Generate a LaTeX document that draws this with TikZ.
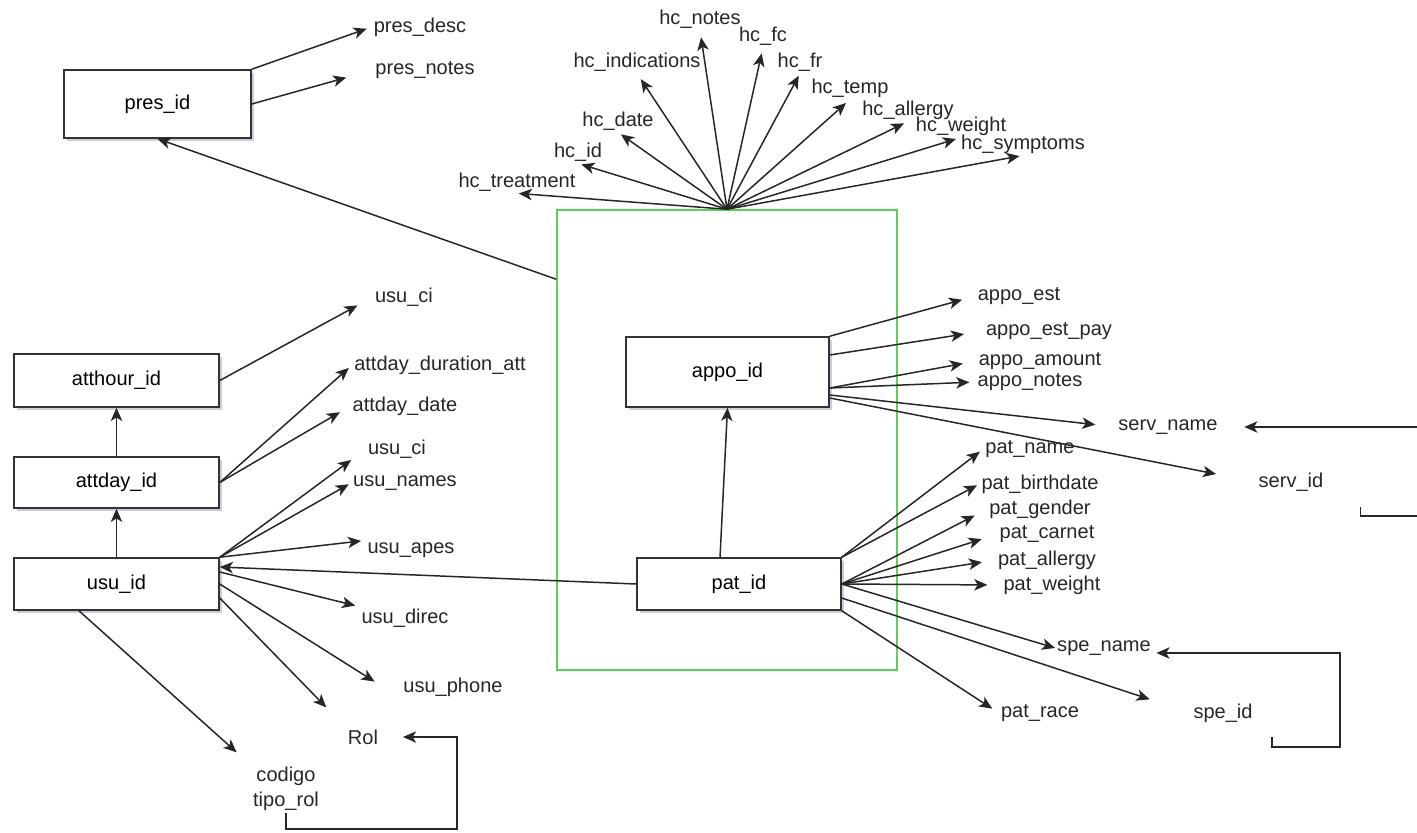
\documentclass[tikz,border=0pt]{standalone}
\usepackage{fontspec}
\setmainfont{Liberation Sans}
\usepackage{xcolor}
\usepackage{tikz}
\usetikzlibrary{arrows.meta, shadows}
\definecolor{grpgreen}{RGB}{90,210,90}

\begin{document}
\begin{tikzpicture}[
    x=0.02cm, y=-0.02cm,
    font=\fontsize{11.4}{14}\selectfont,
    ent/.style={draw=black!80, line width=0.9pt, fill=white, inner sep=0pt, drop shadow={shadow xshift=1.5pt, shadow yshift=-1.5pt, opacity=0.2, fill=blue!40!black}},
    att/.style={inner sep=1pt, text=black!85},
    grpbox/.style={draw=grpgreen, line width=0.9pt, minimum width=6.8cm, minimum height=9.2cm, inner sep=0pt},
    arrow/.style={-{Stealth[length=7.5pt, width=6.5pt, inset=2pt]}, line width=0.85pt, draw=black!85}
]
\useasboundingbox (0,0) rectangle (1417,832);
\clip (0,0) rectangle (1417,832);

% Appointment group
\node[grpbox] (grp) at (727,440) {};

% Entities
\node[ent, minimum width=3.74cm, minimum height=1.36cm] (presid) at (157.5,104) {pres\_id};
\node[ent, minimum width=4.1cm, minimum height=1.06cm] (atthour) at (116.5,380.5) {atthour\_id};
\node[ent, minimum width=4.1cm, minimum height=1.02cm] (attday) at (116.5,482.5) {attday\_id};
\node[ent, minimum width=4.1cm, minimum height=1.04cm] (usuid) at (116.5,584) {usu\_id};
\node[ent, minimum width=4.06cm, minimum height=1.4cm] (appoid) at (727.5,372) {appo\_id};
\node[ent, minimum width=4.08cm, minimum height=1.04cm] (patid) at (739,584) {pat\_id};

% Prescription attributes
\node[att] (presdesc) at (420,27) {pres\_desc};
\node[att] (presnotes) at (425,70) {pres\_notes};

% Clinical history attributes
\node[att] (hctreat) at (517,182) {hc\_treatment};
\node[att] (hcid) at (578,152) {hc\_id};
\node[att] (hcdate) at (618,121) {hc\_date};
\node[att] (hcind) at (637,62) {hc\_indications};
\node[att] (hcnotes) at (700,19) {hc\_notes};
\node[att] (hcfc) at (763,36) {hc\_fc};
\node[att] (hcfr) at (800,62) {hc\_fr};
\node[att] (hctemp) at (850,88) {hc\_temp};
\node[att] (hcallergy) at (908,110) {hc\_allergy};
\node[att] (hcweight) at (961,126) {hc\_weight};
\node[att] (hcsympt) at (1023,144) {hc\_symptoms};

% User side attributes
\node[att] (usuciA) at (404,297) {usu\_ci};
\node[att] (attdur) at (440,365) {attday\_duration\_att};
\node[att] (attdate) at (405,406) {attday\_date};
\node[att] (usuciB) at (397,449) {usu\_ci};
\node[att] (usunames) at (405,483) {usu\_names};
\node[att] (usuapes) at (411,550) {usu\_apes};
\node[att] (usudirec) at (405,618) {usu\_direc};
\node[att] (usuphone) at (453,687) {usu\_phone};
\node[att] (rol) at (363,737) {Rol};
\node[att, align=center] (rolcode) at (286,789) {codigo\\tipo\_rol};

% Appointment attributes
\node[att] (appoest) at (1019,296) {appo\_est};
\node[att] (appopay) at (1049,331) {appo\_est\_pay};
\node[att] (appoamount) at (1040,361) {appo\_amount};
\node[att] (apponotes) at (1030,382) {appo\_notes};
\node[att] (servname) at (1168,427) {serv\_name};
\node[att] (servid) at (1291,482) {serv\_id};

% Patient attributes
\node[att] (patname) at (1030,449) {pat\_name};
\node[att] (patbirth) at (1040,484) {pat\_birthdate};
\node[att] (patgender) at (1040,509) {pat\_gender};
\node[att] (patcarnet) at (1047,534) {pat\_carnet};
\node[att] (patallergy) at (1047,560) {pat\_allergy};
\node[att] (patweight) at (1052,585) {pat\_weight};
\node[att] (spename) at (1104,648) {spe\_name};
\node[att] (speid) at (1223,713) {spe\_id};
\node[att] (patrace) at (1040,713) {pat\_race};

% Prescription
\draw[arrow, shorten >=3pt] (presid.north east) -- (presdesc.west);
\draw[arrow, shorten >=16pt] (presid.east) -- (presnotes.west);
\draw[arrow] ([yshift=-1.4cm]grp.north west) -- (presid.south);

% Clinical history fan
\draw[arrow, shorten >=1pt] (grp.north) -- (hctreat.south);
\draw[arrow, shorten >=2pt] (grp.north) -- (hcid.south);
\draw[arrow, shorten >=2pt] (grp.north) -- (hcdate.south);
\draw[arrow, shorten >=4pt] (grp.north) -- (hcind.south);
\draw[arrow, shorten >=4pt] (grp.north) -- (hcnotes.south);
\draw[arrow, shorten >=3.5pt] (grp.north) -- (hcfc.south);
\draw[arrow, shorten >=1.5pt] (grp.north) -- (hcfr.south);
\draw[arrow, shorten >=3pt] (grp.north) -- (hctemp.south);
\draw[arrow, shorten >=2.5pt] (grp.north) -- (hcallergy.south);
\draw[arrow, shorten >=3pt] (grp.north) -- (hcweight.south);
\draw[arrow, shorten >=2pt] (grp.north) -- (hcsympt.south);

% User chain
\draw[arrow] (usuid.north) -- (attday.south);
\draw[arrow] (attday.north) -- (atthour.south);
\draw[arrow, shorten >=10pt] (atthour.east) -- (usuciA.west);
\draw[arrow, shorten >=2.5pt] (attday.east) -- (attdur.west);
\draw[arrow, shorten >=7pt] (attday.east) -- (attdate.west);
\draw[arrow, shorten >=10.5pt] (usuid.north east) -- (usuciB.west);
\draw[arrow, shorten >=1.5pt] (usuid.north east) -- (usunames.west);
\draw[arrow, shorten >=2.5pt] (usuid.north east) -- (usuapes.north west);
\draw[arrow, shorten >=2.5pt] ([yshift=0.24cm]usuid.east) -- (usudirec.north west);
\draw[arrow, shorten >=18pt] (usuid.east) -- (usuphone.south west);
\draw[arrow, shorten >=16pt] ([yshift=-0.28cm]usuid.east) -- (rol.north west);
\draw[arrow, shorten >=11pt] ([xshift=-0.75cm]usuid.south) -- (rolcode.north west);
\draw[arrow, shorten >=13pt] (rolcode.south) |- (457,829) |- (rol.east);

% Appointment
\draw[arrow, shorten >=8pt] (appoid.north east) -- (appoest.west);
\draw[arrow, shorten >=11.5pt] ([yshift=0.34cm]appoid.east) -- (appopay.west);
\draw[arrow, shorten >=8pt] ([yshift=-0.32cm]appoid.east) -- (appoamount.west);
\draw[arrow, shorten >=3.5pt] ([yshift=-0.32cm]appoid.east) -- (apponotes.west);
\draw[arrow, shorten >=12pt] ([yshift=-0.46cm]appoid.east) -- (servname.west);
\draw[arrow, shorten >=23.5pt] ([yshift=-0.52cm]appoid.east) -- (servid.west);
\draw[arrow, shorten >=14pt] ([xshift=0.7cm,yshift=-0.28cm]servid.south east) |- (1440,516) |- (servname.east);

% Patient
\draw[arrow] ([xshift=-0.38cm]patid.north) -- (appoid.south);
\draw[arrow] (patid.west) -- ([yshift=0.34cm]usuid.east);
\draw[arrow, shorten >=2.5pt] (patid.north east) -- (patname.west);
\draw[arrow, shorten >=1.5pt] (patid.north east) -- (patbirth.west);
\draw[arrow, shorten >=8pt] (patid.east) -- (patgender.west);
\draw[arrow, shorten >=9.5pt] (patid.east) -- (patcarnet.west);
\draw[arrow, shorten >=8pt] (patid.east) -- (patallergy.west);
\draw[arrow, shorten >=8pt] (patid.east) -- (patweight.west);
\draw[arrow] (patid.east) -- (spename.west);
\draw[arrow, shorten >=25pt] ([yshift=-0.28cm]patid.east) -- (speid.west);
\draw[arrow, shorten >=4.5pt] (patid.south east) -- (patrace.west);
\draw[arrow, shorten >=2pt] ([xshift=0.35cm,yshift=-0.26cm]speid.south east) |- (1340,747) |- ([yshift=-0.1cm]spename.east);

\end{tikzpicture}
\end{document}
